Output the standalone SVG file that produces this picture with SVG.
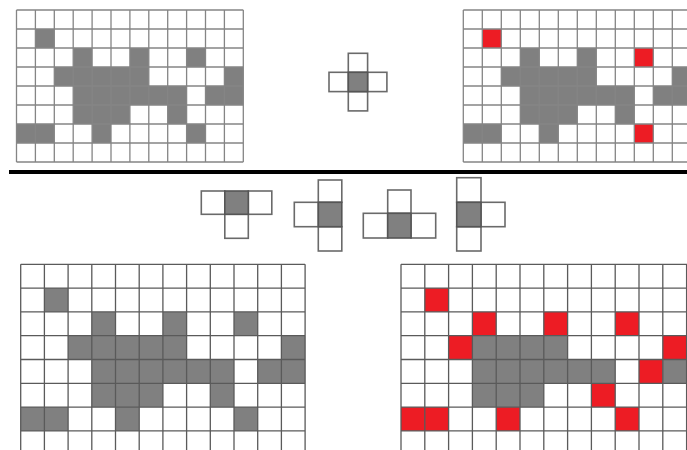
<svg xmlns="http://www.w3.org/2000/svg" width="687" height="450" viewBox="0 0 687 450">
<style>
.g{fill:#808080}
.r{fill:#ed1c24}
.ln{fill:none;stroke:#858585;stroke-width:1.3}
.lb{fill:none;stroke:#5a5a5a;stroke-width:1.3}
.se{stroke:#6a6a6a;stroke-width:1.6;fill:#fff}
.sec{stroke:#555;stroke-width:1.6;fill:#808080}
</style>
<rect width="687" height="450" fill="#fff"/>

<g id="grid-top-left">
<rect class="g" x="35.4" y="29" width="18.9" height="19"/>
<rect class="g" x="73.2" y="48" width="18.9" height="19"/>
<rect class="g" x="129.9" y="48" width="18.9" height="19"/>
<rect class="g" x="186.6" y="48" width="18.9" height="19"/>
<rect class="g" x="54.3" y="67" width="94.5" height="19"/>
<rect class="g" x="224.4" y="67" width="18.9" height="19"/>
<rect class="g" x="73.2" y="86" width="113.4" height="19"/>
<rect class="g" x="205.5" y="86" width="37.8" height="19"/>
<rect class="g" x="73.2" y="105" width="56.7" height="19"/>
<rect class="g" x="167.7" y="105" width="18.9" height="19"/>
<rect class="g" x="16.5" y="124" width="37.8" height="19"/>
<rect class="g" x="92.1" y="124" width="18.9" height="19"/>
<rect class="g" x="186.6" y="124" width="18.9" height="19"/>
<path class="ln" d="M16.5 10V162M35.4 10V162M54.3 10V162M73.2 10V162M92.1 10V162M111 10V162M129.9 10V162M148.8 10V162M167.7 10V162M186.6 10V162M205.5 10V162M224.4 10V162M243.3 10V162M16.5 10H243.3M16.5 29H243.3M16.5 48H243.3M16.5 67H243.3M16.5 86H243.3M16.5 105H243.3M16.5 124H243.3M16.5 143H243.3M16.5 162H243.3"/>
</g>

<g id="se-top">
<rect class="se" x="348.3" y="53.3" width="19.3" height="19"/>
<rect class="se" x="348.3" y="91.6" width="19.3" height="19.3"/>
<rect class="se" x="329" y="72.3" width="19.3" height="19.3"/>
<rect class="se" x="367.6" y="72.3" width="19.3" height="19.3"/>
<rect class="sec" x="348.3" y="72.3" width="19.3" height="19.3"/>
</g>

<g id="grid-top-right">
<rect class="r" x="482.3" y="29" width="19" height="19"/>
<rect class="g" x="520.3" y="48" width="19" height="19"/>
<rect class="g" x="577.3" y="48" width="19" height="19"/>
<rect class="r" x="634.3" y="48" width="19" height="19"/>
<rect class="g" x="501.3" y="67" width="95" height="19"/>
<rect class="g" x="672.3" y="67" width="19" height="19"/>
<rect class="g" x="520.3" y="86" width="114" height="19"/>
<rect class="g" x="653.3" y="86" width="38" height="19"/>
<rect class="g" x="520.3" y="105" width="57" height="19"/>
<rect class="g" x="615.3" y="105" width="19" height="19"/>
<rect class="g" x="463.3" y="124" width="38" height="19"/>
<rect class="g" x="539.3" y="124" width="19" height="19"/>
<rect class="r" x="634.3" y="124" width="19" height="19"/>
<path class="ln" d="M463.3 10V162M482.3 10V162M501.3 10V162M520.3 10V162M539.3 10V162M558.3 10V162M577.3 10V162M596.3 10V162M615.3 10V162M634.3 10V162M653.3 10V162M672.3 10V162M463.3 10H687M463.3 29H687M463.3 48H687M463.3 67H687M463.3 86H687M463.3 105H687M463.3 124H687M463.3 143H687M463.3 162H687"/>
</g>

<rect id="separator" x="9" y="170" width="678" height="4" fill="#000"/>

<g id="se-1">
<rect class="se" x="201.3" y="191" width="23.5" height="23.3"/>
<rect class="se" x="248.3" y="191" width="23.5" height="23.3"/>
<rect class="se" x="224.8" y="214.3" width="23.5" height="24"/>
<rect class="sec" x="224.8" y="191" width="23.5" height="23.3"/>
</g>

<g id="se-2">
<rect class="se" x="318.3" y="180" width="23.5" height="22.3"/>
<rect class="se" x="318.3" y="226.7" width="23.5" height="24.3"/>
<rect class="se" x="294.3" y="202.3" width="24" height="24.4"/>
<rect class="sec" x="318.3" y="202.3" width="23.5" height="24.4"/>
</g>

<g id="se-3">
<rect class="se" x="387.7" y="190" width="23.3" height="23.3"/>
<rect class="se" x="363.3" y="213.3" width="24.4" height="24.7"/>
<rect class="se" x="411" y="213.3" width="24.7" height="24.7"/>
<rect class="sec" x="387.7" y="213.3" width="23.3" height="24.7"/>
</g>

<g id="se-4">
<rect class="se" x="456.7" y="177.7" width="24.3" height="24.6"/>
<rect class="se" x="456.7" y="226.7" width="24.3" height="24.3"/>
<rect class="se" x="481" y="202.3" width="24" height="24.4"/>
<rect class="sec" x="456.7" y="202.3" width="24.3" height="24.4"/>
</g>

<g id="grid-bottom-left">
<rect class="g" x="44.4" y="288.1" width="23.7" height="23.8"/>
<rect class="g" x="91.8" y="311.9" width="23.7" height="23.8"/>
<rect class="g" x="162.9" y="311.9" width="23.7" height="23.8"/>
<rect class="g" x="234" y="311.9" width="23.7" height="23.8"/>
<rect class="g" x="68.1" y="335.7" width="118.5" height="23.8"/>
<rect class="g" x="281.4" y="335.7" width="23.7" height="23.8"/>
<rect class="g" x="91.8" y="359.5" width="142.2" height="23.8"/>
<rect class="g" x="257.7" y="359.5" width="47.4" height="23.8"/>
<rect class="g" x="91.8" y="383.3" width="71.1" height="23.8"/>
<rect class="g" x="210.3" y="383.3" width="23.7" height="23.8"/>
<rect class="g" x="20.7" y="407.1" width="47.4" height="23.8"/>
<rect class="g" x="115.5" y="407.1" width="23.7" height="23.8"/>
<rect class="g" x="234" y="407.1" width="23.7" height="23.8"/>
<path class="lb" d="M20.7 264.3V450M44.4 264.3V450M68.1 264.3V450M91.8 264.3V450M115.5 264.3V450M139.2 264.3V450M162.9 264.3V450M186.6 264.3V450M210.3 264.3V450M234 264.3V450M257.7 264.3V450M281.4 264.3V450M305.1 264.3V450M20.7 264.3H305.1M20.7 288.1H305.1M20.7 311.9H305.1M20.7 335.7H305.1M20.7 359.5H305.1M20.7 383.3H305.1M20.7 407.1H305.1M20.7 430.9H305.1"/>
</g>

<g id="grid-bottom-right">
<rect class="r" x="424.8" y="288.1" width="23.8" height="23.8"/>
<rect class="r" x="472.4" y="311.9" width="23.8" height="23.8"/>
<rect class="r" x="543.8" y="311.9" width="23.8" height="23.8"/>
<rect class="r" x="615.2" y="311.9" width="23.8" height="23.8"/>
<rect class="r" x="448.6" y="335.7" width="23.8" height="23.8"/>
<rect class="g" x="472.4" y="335.7" width="95.2" height="23.8"/>
<rect class="r" x="662.8" y="335.7" width="23.8" height="23.8"/>
<rect class="g" x="472.4" y="359.5" width="142.8" height="23.8"/>
<rect class="r" x="639" y="359.5" width="23.8" height="23.8"/>
<rect class="g" x="662.8" y="359.5" width="23.8" height="23.8"/>
<rect class="g" x="472.4" y="383.3" width="71.4" height="23.8"/>
<rect class="r" x="591.4" y="383.3" width="23.8" height="23.8"/>
<rect class="r" x="401" y="407.1" width="47.6" height="23.8"/>
<rect class="r" x="496.2" y="407.1" width="23.8" height="23.8"/>
<rect class="r" x="615.2" y="407.1" width="23.8" height="23.8"/>
<path class="lb" d="M401 264.3V450M424.8 264.3V450M448.6 264.3V450M472.4 264.3V450M496.2 264.3V450M520 264.3V450M543.8 264.3V450M567.6 264.3V450M591.4 264.3V450M615.2 264.3V450M639 264.3V450M662.8 264.3V450M686.6 264.3V450M401 264.3H687M401 288.1H687M401 311.9H687M401 335.7H687M401 359.5H687M401 383.3H687M401 407.1H687M401 430.9H687"/>
</g>
</svg>
